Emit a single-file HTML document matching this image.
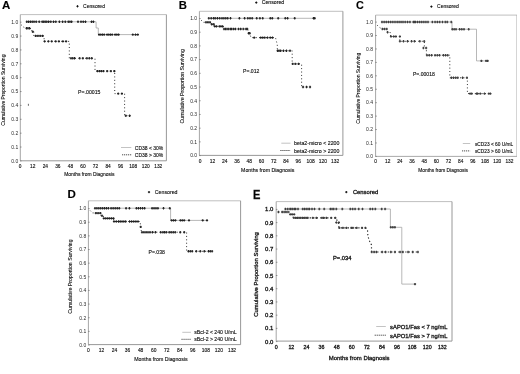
<!DOCTYPE html>
<html><head><meta charset="utf-8"><title>Kaplan-Meier survival curves</title>
<style>
html,body{margin:0;padding:0;background:#fff;width:520px;height:374px;overflow:hidden;}
svg{display:block;}
text{font-family:"Liberation Sans", sans-serif;stroke:#222;stroke-width:0.12px;}
.pE text{stroke-width:0.3px;}
</style></head>
<body>
<svg width="520" height="374" viewBox="0 0 520 374">
<defs><filter id="bl" x="0" y="0" width="1" height="1"><feGaussianBlur stdDeviation="0.35"/></filter></defs>
<rect width="520" height="374" fill="#fff"/>
<g filter="url(#bl)">
<g class="pA">
<path d="M20.3 14.6H166.4" stroke="#b8b8b8" stroke-width="0.9"/>
<path d="M20.3 14.6V160.8" stroke="#a6a6a6" stroke-width="1.0"/>
<path d="M20.3 160.8H166.4V14.6" fill="none" stroke="#8c8c8c" stroke-width="0.9"/>
<text x="1.91" y="8.5" font-size="10.5" textLength="8.3" lengthAdjust="spacingAndGlyphs" font-weight="bold" fill="#000">A</text>
<path d="M76.4 6.3H78.6M77.5 5.2V7.4" stroke="#111" stroke-width="1.0"/>
<text x="83.1" y="8.14" font-size="5.1" textLength="21.9" lengthAdjust="spacingAndGlyphs">Censored</text>
<path d="M20 160.9h1.5M20 147.03h1.5M20 133.16h1.5M20 119.29h1.5M20 105.42h1.5M20 91.55h1.5M20 77.68h1.5M20 63.81h1.5M20 49.94h1.5M20 36.07h1.5M20 22.2h1.5" stroke="#777" stroke-width="0.8"/>
<text x="18.2" y="162.7" font-size="5" text-anchor="end" fill="#2a2a2a" style="stroke:none">0.0</text>
<text x="18.2" y="148.83" font-size="5" text-anchor="end" fill="#2a2a2a" style="stroke:none">0.1</text>
<text x="18.2" y="134.96" font-size="5" text-anchor="end" fill="#2a2a2a" style="stroke:none">0.2</text>
<text x="18.2" y="121.09" font-size="5" text-anchor="end" fill="#2a2a2a" style="stroke:none">0.3</text>
<text x="18.2" y="107.22" font-size="5" text-anchor="end" fill="#2a2a2a" style="stroke:none">0.4</text>
<text x="18.2" y="93.35" font-size="5" text-anchor="end" fill="#2a2a2a" style="stroke:none">0.5</text>
<text x="18.2" y="79.48" font-size="5" text-anchor="end" fill="#2a2a2a" style="stroke:none">0.6</text>
<text x="18.2" y="65.61" font-size="5" text-anchor="end" fill="#2a2a2a" style="stroke:none">0.7</text>
<text x="18.2" y="51.74" font-size="5" text-anchor="end" fill="#2a2a2a" style="stroke:none">0.8</text>
<text x="18.2" y="37.87" font-size="5" text-anchor="end" fill="#2a2a2a" style="stroke:none">0.9</text>
<text x="18.2" y="24" font-size="5" text-anchor="end" fill="#2a2a2a" style="stroke:none">1.0</text>
<text x="20.2" y="167.73" font-size="4.8" text-anchor="middle">0</text>
<text x="32.75" y="167.73" font-size="4.8" text-anchor="middle">12</text>
<text x="45.31" y="167.73" font-size="4.8" text-anchor="middle">24</text>
<text x="57.86" y="167.73" font-size="4.8" text-anchor="middle">36</text>
<text x="70.42" y="167.73" font-size="4.8" text-anchor="middle">48</text>
<text x="82.97" y="167.73" font-size="4.8" text-anchor="middle">60</text>
<text x="95.53" y="167.73" font-size="4.8" text-anchor="middle">72</text>
<text x="108.08" y="167.73" font-size="4.8" text-anchor="middle">84</text>
<text x="120.64" y="167.73" font-size="4.8" text-anchor="middle">96</text>
<text x="133.19" y="167.73" font-size="4.8" text-anchor="middle">108</text>
<text x="145.75" y="167.73" font-size="4.8" text-anchor="middle">120</text>
<text x="158.3" y="167.73" font-size="4.8" text-anchor="middle">132</text>
<text x="64.2" y="176.44" font-size="5.1" textLength="50.4" lengthAdjust="spacingAndGlyphs">Months from Diagnosis</text>
<g transform="translate(4.9 125.7) rotate(-90)"><text x="0" y="0" font-size="5.1" textLength="71.1" lengthAdjust="spacingAndGlyphs">Cumulative Proportion Surviving</text></g>
<text x="78.1" y="93.95" font-size="5.7" textLength="22.3" lengthAdjust="spacingAndGlyphs">P=.00015</text>
<path d="M121 147.5H131.3" stroke="#b4b4b4" stroke-width="0.8"/>
<text x="134.8" y="149.64" font-size="5.1" textLength="28.5" lengthAdjust="spacingAndGlyphs">CD38 &lt; 30%</text>
<path d="M122.1 154.8H131.3" stroke="#3a3a3a" stroke-width="1.0" stroke-dasharray="1.1 0.9"/>
<text x="134.8" y="156.94" font-size="5.1" textLength="28.5" lengthAdjust="spacingAndGlyphs">CD38 &gt; 30%</text>
<path d="M26 21.8 L96.1 21.8 L96.1 28 L98.3 28 L98.3 34.6 L138.9 34.6" fill="none" stroke="#999" stroke-width="0.7"/>
<path d="M21 24.6 L24 27.5 L30 28.6 L31.8 28.6 L31.8 31.7 L33.8 31.7 L33.8 35.9 L44.1 35.9 L44.1 41.4 L69.3 41.4 L69.3 58.3 L95 58.3 L95 71.1 L114.7 71.1 L114.7 93.6 L124.6 93.6 L124.6 115.7 L130.5 115.7" fill="none" stroke="#333" stroke-width="1" stroke-dasharray="1 2.4"/>
<path d="M25.7 21.8H27.9M26.8 20.6V23M27.5 21.8H29.7M28.6 20.6V23M29.3 21.8H31.5M30.4 20.6V23M31.1 21.8H33.3M32.2 20.6V23M32.9 21.8H35.1M34 20.6V23M35.1 21.8H37.3M36.2 20.6V23M38.1 21.8H40.3M39.2 20.6V23M41.1 21.8H43.3M42.2 20.6V23M42.6 21.8H44.8M43.7 20.6V23M44.1 21.8H46.3M45.2 20.6V23M45.7 21.8H47.9M46.8 20.6V23M47.5 21.8H49.7M48.6 20.6V23M49.7 21.8H51.9M50.8 20.6V23M52.4 21.8H54.6M53.5 20.6V23M54.7 21.8H56.9M55.8 20.6V23M58.3 21.8H60.5M59.4 20.6V23M61.5 21.8H63.7M62.6 20.6V23M64.2 21.8H66.4M65.3 20.6V23M67.2 21.8H69.4M68.3 20.6V23M68.85 21.8H71.05M69.95 20.6V23M70.5 21.8H72.7M71.6 20.6V23M76.9 21.8H79.1M78 20.6V23M79.9 21.8H82.1M81 20.6V23M82.15 21.8H84.35M83.25 20.6V23M84.4 21.8H86.6M85.5 20.6V23M90.4 21.8H92.6M91.5 20.6V23M92.3 21.8H94.5M93.4 20.6V23" stroke="#222" stroke-width="1.1"/>
<path d="M98 34.6H100.2M99.1 33.4V35.8M99.7 34.6H101.9M100.8 33.4V35.8M101.4 34.6H103.6M102.5 33.4V35.8M103.1 34.6H105.3M104.2 33.4V35.8M106 34.6H108.2M107.1 33.4V35.8M107.7 34.6H109.9M108.8 33.4V35.8M109.4 34.6H111.6M110.5 33.4V35.8M111.1 34.6H113.3M112.2 33.4V35.8M114 34.6H116.2M115.1 33.4V35.8M115.75 34.6H117.95M116.85 33.4V35.8M117.5 34.6H119.7M118.6 33.4V35.8M131.7 34.6H133.9M132.8 33.4V35.8M134.4 34.6H136.6M135.5 33.4V35.8M136.7 34.6H138.9M137.8 33.4V35.8" stroke="#222" stroke-width="1.1"/>
<path d="M25.4 28.3H27.6M26.5 27.1V29.5M26.9 28.3H29.1M28 27.1V29.5M28.4 28.3H30.6M29.5 27.1V29.5" stroke="#222" stroke-width="1.1"/>
<path d="M31.7 31.8H33.9M32.8 30.6V33" stroke="#222" stroke-width="1.1"/>
<path d="M34.5 35.9H36.7M35.6 34.7V37.1M36.8 35.9H39M37.9 34.7V37.1M39.1 35.9H41.3M40.2 34.7V37.1M41.4 35.9H43.6M42.5 34.7V37.1" stroke="#222" stroke-width="1.1"/>
<path d="M43.5 41.4H45.7M44.6 40.2V42.6M47.3 41.4H49.5M48.4 40.2V42.6M50.6 41.4H52.8M51.7 40.2V42.6M54.6 41.4H56.8M55.7 40.2V42.6M57.8 41.4H60M58.9 40.2V42.6M61.8 41.4H64M62.9 40.2V42.6M65 41.4H67.2M66.1 40.2V42.6" stroke="#222" stroke-width="1.1"/>
<path d="M69.9 58.3H72.1M71 57.1V59.5M71.65 58.3H73.85M72.75 57.1V59.5M73.4 58.3H75.6M74.5 57.1V59.5M78.6 58.3H80.8M79.7 57.1V59.5M81.8 58.3H84M82.9 57.1V59.5M85.8 58.3H88M86.9 57.1V59.5M88.2 58.3H90.4M89.3 57.1V59.5M90.6 58.3H92.8M91.7 57.1V59.5" stroke="#222" stroke-width="1.1"/>
<path d="M96.4 71.1H98.6M97.5 69.9V72.3M98.4 71.1H100.6M99.5 69.9V72.3M100.4 71.1H102.6M101.5 69.9V72.3M102.4 71.1H104.6M103.5 69.9V72.3M106.1 71.1H108.3M107.2 69.9V72.3M109.8 71.1H112M110.9 69.9V72.3M113.3 71.1H115.5M114.4 69.9V72.3" stroke="#222" stroke-width="1.1"/>
<path d="M117.1 93.6H119.3M118.2 92.4V94.8M120.8 93.6H123M121.9 92.4V94.8" stroke="#222" stroke-width="1.1"/>
<path d="M124.7 115.7H126.9M125.8 114.5V116.9M128.5 115.7H130.7M129.6 114.5V116.9" stroke="#222" stroke-width="1.1"/>
<path d="M28.4 103.8V105.8" stroke="#444" stroke-width="0.8"/>
</g>
<g class="pB">
<path d="M199.4 11.3H342.9" stroke="#b8b8b8" stroke-width="0.9"/>
<path d="M199.4 11.3V155.4" stroke="#a6a6a6" stroke-width="1.0"/>
<path d="M199.4 155.4H342.9V11.3" fill="none" stroke="#8c8c8c" stroke-width="0.9"/>
<text x="178.76" y="9.1" font-size="10.6" textLength="8.17" lengthAdjust="spacingAndGlyphs" font-weight="bold" fill="#000">B</text>
<path d="M255.2 2.6H257.4M256.3 1.5V3.7" stroke="#111" stroke-width="1.0"/>
<text x="261.7" y="4.47" font-size="5.2" textLength="22.5" lengthAdjust="spacingAndGlyphs">Censored</text>
<path d="M199.1 155.6h1.5M199.1 141.89h1.5M199.1 128.18h1.5M199.1 114.47h1.5M199.1 100.76h1.5M199.1 87.05h1.5M199.1 73.34h1.5M199.1 59.63h1.5M199.1 45.92h1.5M199.1 32.21h1.5M199.1 18.5h1.5" stroke="#777" stroke-width="0.8"/>
<text x="197.1" y="157.4" font-size="5" text-anchor="end" fill="#2a2a2a" style="stroke:none">0.0</text>
<text x="197.1" y="143.69" font-size="5" text-anchor="end" fill="#2a2a2a" style="stroke:none">0.1</text>
<text x="197.1" y="129.98" font-size="5" text-anchor="end" fill="#2a2a2a" style="stroke:none">0.2</text>
<text x="197.1" y="116.27" font-size="5" text-anchor="end" fill="#2a2a2a" style="stroke:none">0.3</text>
<text x="197.1" y="102.56" font-size="5" text-anchor="end" fill="#2a2a2a" style="stroke:none">0.4</text>
<text x="197.1" y="88.85" font-size="5" text-anchor="end" fill="#2a2a2a" style="stroke:none">0.5</text>
<text x="197.1" y="75.14" font-size="5" text-anchor="end" fill="#2a2a2a" style="stroke:none">0.6</text>
<text x="197.1" y="61.43" font-size="5" text-anchor="end" fill="#2a2a2a" style="stroke:none">0.7</text>
<text x="197.1" y="47.72" font-size="5" text-anchor="end" fill="#2a2a2a" style="stroke:none">0.8</text>
<text x="197.1" y="34.01" font-size="5" text-anchor="end" fill="#2a2a2a" style="stroke:none">0.9</text>
<text x="197.1" y="20.3" font-size="5" text-anchor="end" fill="#2a2a2a" style="stroke:none">1.0</text>
<text x="200.2" y="162.86" font-size="4.9" text-anchor="middle">0</text>
<text x="212.46" y="162.86" font-size="4.9" text-anchor="middle">12</text>
<text x="224.73" y="162.86" font-size="4.9" text-anchor="middle">24</text>
<text x="236.99" y="162.86" font-size="4.9" text-anchor="middle">36</text>
<text x="249.25" y="162.86" font-size="4.9" text-anchor="middle">48</text>
<text x="261.52" y="162.86" font-size="4.9" text-anchor="middle">60</text>
<text x="273.78" y="162.86" font-size="4.9" text-anchor="middle">72</text>
<text x="286.05" y="162.86" font-size="4.9" text-anchor="middle">84</text>
<text x="298.31" y="162.86" font-size="4.9" text-anchor="middle">96</text>
<text x="310.57" y="162.86" font-size="4.9" text-anchor="middle">108</text>
<text x="322.84" y="162.86" font-size="4.9" text-anchor="middle">120</text>
<text x="335.1" y="162.86" font-size="4.9" text-anchor="middle">132</text>
<text x="241.1" y="171.97" font-size="5.2" textLength="53.2" lengthAdjust="spacingAndGlyphs">Months from Diagnosis</text>
<g transform="translate(183.6 123.4) rotate(-90)"><text x="0" y="0" font-size="5.2" textLength="74.3" lengthAdjust="spacingAndGlyphs">Cumulative Proportion Surviving</text></g>
<text x="243" y="73.25" font-size="5.7" textLength="16.3" lengthAdjust="spacingAndGlyphs">P=.012</text>
<path d="M281.3 143.2H290.5" stroke="#b4b4b4" stroke-width="0.8"/>
<text x="294.1" y="145.37" font-size="5.2" textLength="45.3" lengthAdjust="spacingAndGlyphs">beta2-micro &lt; 2200</text>
<path d="M280.4 150.5H290.5" stroke="#3a3a3a" stroke-width="1.0" stroke-dasharray="1.1 0.9"/>
<text x="294.1" y="152.67" font-size="5.2" textLength="45.3" lengthAdjust="spacingAndGlyphs">beta2-micro &gt; 2200</text>
<path d="M208.2 18.3 L315.9 18.3" fill="none" stroke="#999" stroke-width="0.7"/>
<path d="M201 20.1 L203.6 22.3 L210.5 22.3 L210.5 24.2 L214.2 24.2 L214.2 26.4 L223.5 26.4 L223.5 29 L247.4 29 L249.5 33 L251 37.6 L275.5 37.6 L277.3 44.8 L277.3 50.8 L292.2 50.8 L292.2 63.9 L301.6 63.9 L301.6 87 L311.8 87" fill="none" stroke="#333" stroke-width="1" stroke-dasharray="1 2.4"/>
<path d="M207.7 18.3H209.9M208.8 17.1V19.5M210.1 18.3H212.3M211.2 17.1V19.5M212.5 18.3H214.7M213.6 17.1V19.5M214.1 18.3H216.3M215.2 17.1V19.5M216.35 18.3H218.55M217.45 17.1V19.5M218.6 18.3H220.8M219.7 17.1V19.5M220.9 18.3H223.1M222 17.1V19.5M222.8 18.3H225M223.9 17.1V19.5M224.7 18.3H226.9M225.8 17.1V19.5M226.6 18.3H228.8M227.7 17.1V19.5M229.4 18.3H231.6M230.5 17.1V19.5M238.3 18.3H240.5M239.4 17.1V19.5M243.5 18.3H245.7M244.6 17.1V19.5M246.7 18.3H248.9M247.8 17.1V19.5M248.9 18.3H251.1M250 17.1V19.5M251.1 18.3H253.3M252.2 17.1V19.5M255.6 18.3H257.8M256.7 17.1V19.5M258.8 18.3H261M259.9 17.1V19.5M261.6 18.3H263.8M262.7 17.1V19.5M269.2 18.3H271.4M270.3 17.1V19.5M271.2 18.3H273.4M272.3 17.1V19.5M277.1 18.3H279.3M278.2 17.1V19.5M284.2 18.3H286.4M285.3 17.1V19.5M286.5 18.3H288.7M287.6 17.1V19.5M293.6 18.3H295.8M294.7 17.1V19.5M312.4 18.3H314.6M313.5 17.1V19.5M313.6 18.3H315.8M314.7 17.1V19.5" stroke="#222" stroke-width="1.1"/>
<path d="M204.9 22.3H207.1M206 21.1V23.5M206.9 22.3H209.1M208 21.1V23.5M208.9 22.3H211.1M210 21.1V23.5" stroke="#222" stroke-width="1.1"/>
<path d="M210.6 24.2H212.8M211.7 23V25.4M212.7 24.2H214.9M213.8 23V25.4" stroke="#222" stroke-width="1.1"/>
<path d="M213.7 26.4H215.9M214.8 25.2V27.6M215.4 26.4H217.6M216.5 25.2V27.6M218.3 26.4H220.5M219.4 25.2V27.6M219.85 26.4H222.05M220.95 25.2V27.6M221.4 26.4H223.6M222.5 25.2V27.6" stroke="#222" stroke-width="1.1"/>
<path d="M222.9 29H225.1M224 27.8V30.2M224.45 29H226.65M225.55 27.8V30.2M226 29H228.2M227.1 27.8V30.2M227.6 29H229.8M228.7 27.8V30.2M229.5 29H231.7M230.6 27.8V30.2M230.6 29H232.8M231.7 27.8V30.2M232.5 29H234.7M233.6 27.8V30.2M234.4 29H236.6M235.5 27.8V30.2M237.4 29H239.6M238.5 27.8V30.2M239.5 29H241.7M240.6 27.8V30.2M242.2 29H244.4M243.3 27.8V30.2M245 29H247.2M246.1 27.8V30.2M246.2 29H248.4M247.3 27.8V30.2" stroke="#222" stroke-width="1.1"/>
<path d="M247.5 33.2H249.7M248.6 32V34.4M248.7 33.2H250.9M249.8 32V34.4" stroke="#222" stroke-width="1.1"/>
<path d="M253.1 37.6H255.3M254.2 36.4V38.8M259.6 37.6H261.8M260.7 36.4V38.8M261.6 37.6H263.8M262.7 36.4V38.8M263.6 37.6H265.8M264.7 36.4V38.8M266.4 37.6H268.6M267.5 36.4V38.8M269.2 37.6H271.4M270.3 36.4V38.8M271.4 37.6H273.6M272.5 36.4V38.8" stroke="#222" stroke-width="1.1"/>
<path d="M276.5 50.8H278.7M277.6 49.6V52M278 50.8H280.2M279.1 49.6V52M279.5 50.8H281.7M280.6 49.6V52M282.4 50.8H284.6M283.5 49.6V52M285.4 50.8H287.6M286.5 49.6V52M288.9 50.8H291.1M290 49.6V52" stroke="#222" stroke-width="1.1"/>
<path d="M291.6 63.9H293.8M292.7 62.7V65.1M294.2 63.9H296.4M295.3 62.7V65.1M297.4 63.9H299.6M298.5 62.7V65.1" stroke="#222" stroke-width="1.1"/>
<path d="M301.9 87H304.1M303 85.8V88.2M305.4 87H307.6M306.5 85.8V88.2M308.9 87H311.1M310 85.8V88.2" stroke="#222" stroke-width="1.1"/>
</g>
<g class="pC">
<path d="M375.6 15.1H517" stroke="#b8b8b8" stroke-width="0.9"/>
<path d="M375.6 15.1V156.4" stroke="#a6a6a6" stroke-width="1.0"/>
<path d="M375.6 156.4H517V15.1" fill="none" stroke="#a0a0a0" stroke-width="0.9"/>
<text x="356.07" y="8.6" font-size="10.8" textLength="7.83" lengthAdjust="spacingAndGlyphs" font-weight="bold" fill="#000">C</text>
<path d="M430.3 6.6H432.5M431.4 5.5V7.7" stroke="#111" stroke-width="1.0"/>
<text x="437.1" y="8.4" font-size="5" textLength="21.7" lengthAdjust="spacingAndGlyphs">Censored</text>
<path d="M375.3 156.4h1.5M375.3 142.97h1.5M375.3 129.54h1.5M375.3 116.11h1.5M375.3 102.68h1.5M375.3 89.25h1.5M375.3 75.82h1.5M375.3 62.39h1.5M375.3 48.96h1.5M375.3 35.53h1.5M375.3 22.1h1.5" stroke="#777" stroke-width="0.8"/>
<text x="373" y="158.2" font-size="5" text-anchor="end" fill="#2a2a2a" style="stroke:none">0.0</text>
<text x="373" y="144.77" font-size="5" text-anchor="end" fill="#2a2a2a" style="stroke:none">0.1</text>
<text x="373" y="131.34" font-size="5" text-anchor="end" fill="#2a2a2a" style="stroke:none">0.2</text>
<text x="373" y="117.91" font-size="5" text-anchor="end" fill="#2a2a2a" style="stroke:none">0.3</text>
<text x="373" y="104.48" font-size="5" text-anchor="end" fill="#2a2a2a" style="stroke:none">0.4</text>
<text x="373" y="91.05" font-size="5" text-anchor="end" fill="#2a2a2a" style="stroke:none">0.5</text>
<text x="373" y="77.62" font-size="5" text-anchor="end" fill="#2a2a2a" style="stroke:none">0.6</text>
<text x="373" y="64.19" font-size="5" text-anchor="end" fill="#2a2a2a" style="stroke:none">0.7</text>
<text x="373" y="50.76" font-size="5" text-anchor="end" fill="#2a2a2a" style="stroke:none">0.8</text>
<text x="373" y="37.33" font-size="5" text-anchor="end" fill="#2a2a2a" style="stroke:none">0.9</text>
<text x="373" y="23.9" font-size="5" text-anchor="end" fill="#2a2a2a" style="stroke:none">1.0</text>
<text x="375.5" y="163.03" font-size="4.8" text-anchor="middle">0</text>
<text x="387.67" y="163.03" font-size="4.8" text-anchor="middle">12</text>
<text x="399.85" y="163.03" font-size="4.8" text-anchor="middle">24</text>
<text x="412.02" y="163.03" font-size="4.8" text-anchor="middle">36</text>
<text x="424.19" y="163.03" font-size="4.8" text-anchor="middle">48</text>
<text x="436.36" y="163.03" font-size="4.8" text-anchor="middle">60</text>
<text x="448.54" y="163.03" font-size="4.8" text-anchor="middle">72</text>
<text x="460.71" y="163.03" font-size="4.8" text-anchor="middle">84</text>
<text x="472.88" y="163.03" font-size="4.8" text-anchor="middle">96</text>
<text x="485.05" y="163.03" font-size="4.8" text-anchor="middle">108</text>
<text x="497.23" y="163.03" font-size="4.8" text-anchor="middle">120</text>
<text x="509.4" y="163.03" font-size="4.8" text-anchor="middle">132</text>
<text x="418.2" y="172.3" font-size="5" textLength="49.8" lengthAdjust="spacingAndGlyphs">Months from Diagnosis</text>
<g transform="translate(360.4 123.7) rotate(-90)"><text x="0" y="0" font-size="5" textLength="71" lengthAdjust="spacingAndGlyphs">Cumulative Proportion Surviving</text></g>
<text x="413" y="76.25" font-size="5.7" textLength="21.8" lengthAdjust="spacingAndGlyphs">P=.00018</text>
<path d="M462.8 143.5H470.2" stroke="#b4b4b4" stroke-width="0.8"/>
<text x="474.9" y="145.6" font-size="5" textLength="38.4" lengthAdjust="spacingAndGlyphs">sCD23 &lt; 60 U/mL</text>
<path d="M462.1 150.9H470.2" stroke="#3a3a3a" stroke-width="1.0" stroke-dasharray="1.1 0.9"/>
<text x="474.9" y="153" font-size="5" textLength="38.4" lengthAdjust="spacingAndGlyphs">sCD23 &gt; 60 U/mL</text>
<path d="M381.2 22 L452 22 L452 29.2 L476.5 29.2 L476.5 60.9 L489 60.9" fill="none" stroke="#999" stroke-width="0.7"/>
<path d="M377.2 25.2 L379.5 27.4 L382 29 L387.2 29 L387.4 32.4 L390.6 32.6 L390.6 36.5 L399.8 36.5 L399.8 41.3 L424.4 41.3 L424.4 48 L426.4 48 L426.4 55.2 L449.8 55.2 L449.8 77.8 L467.4 77.8 L467.4 93.6 L491 93.6" fill="none" stroke="#333" stroke-width="1" stroke-dasharray="1 2.4"/>
<path d="M380.9 22H383.1M382 20.8V23.2M383.07 22H385.27M384.17 20.8V23.2M385.23 22H387.43M386.33 20.8V23.2M387.4 22H389.6M388.5 20.8V23.2M389.57 22H391.77M390.67 20.8V23.2M391.73 22H393.93M392.83 20.8V23.2M393.9 22H396.1M395 20.8V23.2M396.1 22H398.3M397.2 20.8V23.2M398.03 22H400.23M399.13 20.8V23.2M399.97 22H402.17M401.07 20.8V23.2M401.9 22H404.1M403 20.8V23.2M404.1 22H406.3M405.2 20.8V23.2M406.45 22H408.65M407.55 20.8V23.2M408.8 22H411M409.9 20.8V23.2M412.3 22H414.5M413.4 20.8V23.2M414.39 22H416.59M415.49 20.8V23.2M416.47 22H418.67M417.57 20.8V23.2M418.56 22H420.76M419.66 20.8V23.2M420.64 22H422.84M421.74 20.8V23.2M422.73 22H424.93M423.83 20.8V23.2M424.81 22H427.01M425.91 20.8V23.2M426.9 22H429.1M428 20.8V23.2M413.2 22H415.4M414.3 20.8V23.2M431.3 22H433.5M432.4 20.8V23.2M434 22H436.2M435.1 20.8V23.2M436.3 22H438.5M437.4 20.8V23.2M438.6 22H440.8M439.7 20.8V23.2M441.4 22H443.6M442.5 20.8V23.2M444.2 22H446.4M445.3 20.8V23.2M446.2 22H448.4M447.3 20.8V23.2M450.2 22H452.4M451.3 20.8V23.2" stroke="#3c3c3c" stroke-width="1.1"/>
<path d="M451.2 29.2H453.4M452.3 28V30.4M453.05 29.2H455.25M454.15 28V30.4M454.9 29.2H457.1M456 28V30.4M458.5 29.2H460.7M459.6 28V30.4M460.7 29.2H462.9M461.8 28V30.4M462.9 29.2H465.1M464 28V30.4M467.6 29.2H469.8M468.7 28V30.4" stroke="#3c3c3c" stroke-width="1.1"/>
<path d="M480.3 60.9H482.5M481.4 59.7V62.1M485 60.9H487.2M486.1 59.7V62.1M486.5 60.9H488.7M487.6 59.7V62.1" stroke="#3c3c3c" stroke-width="1.1"/>
<path d="M381.3 29H383.5M382.4 27.8V30.2M383.5 29H385.7M384.6 27.8V30.2M385.7 29H387.9M386.8 27.8V30.2" stroke="#3c3c3c" stroke-width="1.1"/>
<path d="M386.5 32.3H388.7M387.6 31.1V33.5" stroke="#3c3c3c" stroke-width="1.1"/>
<path d="M389.9 36.5H392.1M391 35.3V37.7M392.7 36.5H394.9M393.8 35.3V37.7M394.8 36.5H397M395.9 35.3V37.7M398.8 36.5H401M399.9 35.3V37.7" stroke="#3c3c3c" stroke-width="1.1"/>
<path d="M398.8 41.3H401M399.9 40.1V42.5M402.4 41.3H404.6M403.5 40.1V42.5M406.4 41.3H408.6M407.5 40.1V42.5M410.4 41.3H412.6M411.5 40.1V42.5M413.3 41.3H415.5M414.4 40.1V42.5M418.7 41.3H420.9M419.8 40.1V42.5M423.1 41.3H425.3M424.2 40.1V42.5" stroke="#3c3c3c" stroke-width="1.1"/>
<path d="M422.3 48H424.5M423.4 46.8V49.2M425.1 48H427.3M426.2 46.8V49.2" stroke="#3c3c3c" stroke-width="1.1"/>
<path d="M425.9 55.2H428.1M427 54V56.4M428.2 55.2H430.4M429.3 54V56.4M430.5 55.2H432.7M431.6 54V56.4M433.9 55.2H436.1M435 54V56.4M436.2 55.2H438.4M437.3 54V56.4M438.5 55.2H440.7M439.6 54V56.4M442.4 55.2H444.6M443.5 54V56.4M444.5 55.2H446.7M445.6 54V56.4M446.6 55.2H448.8M447.7 54V56.4" stroke="#3c3c3c" stroke-width="1.1"/>
<path d="M450.3 77.8H452.5M451.4 76.6V79M452.4 77.8H454.6M453.5 76.6V79M454.6 77.8H456.8M455.7 76.6V79M456.7 77.8H458.9M457.8 76.6V79M461.5 77.8H463.7M462.6 76.6V79M465.8 77.8H468M466.9 76.6V79" stroke="#3c3c3c" stroke-width="1.1"/>
<path d="M469 93.6H471.2M470.1 92.4V94.8M470.6 93.6H472.8M471.7 92.4V94.8M475.4 93.6H477.6M476.5 92.4V94.8M476.5 93.6H478.7M477.6 92.4V94.8M479.2 93.6H481.4M480.3 92.4V94.8M483.4 93.6H485.6M484.5 92.4V94.8M487.7 93.6H489.9M488.8 92.4V94.8M489.3 93.6H491.5M490.4 92.4V94.8" stroke="#3c3c3c" stroke-width="1.1"/>
</g>
<g class="pD">
<path d="M88.4 200.8H240.6" stroke="#b8b8b8" stroke-width="0.9"/>
<path d="M88.4 200.8V344.6" stroke="#a6a6a6" stroke-width="1.0"/>
<path d="M88.4 344.6H240.6V200.8" fill="none" stroke="#8c8c8c" stroke-width="0.9"/>
<text x="67.55" y="198.2" font-size="11.3" textLength="8.34" lengthAdjust="spacingAndGlyphs" font-weight="bold" fill="#000">D</text>
<path d="M147.9 192.1H150.1M149 191V193.2" stroke="#111" stroke-width="1.0"/>
<text x="154.8" y="193.97" font-size="5.2" textLength="22.7" lengthAdjust="spacingAndGlyphs">Censored</text>
<path d="M88.1 345h1.5M88.1 331.36h1.5M88.1 317.72h1.5M88.1 304.08h1.5M88.1 290.44h1.5M88.1 276.8h1.5M88.1 263.16h1.5M88.1 249.52h1.5M88.1 235.88h1.5M88.1 222.24h1.5M88.1 208.6h1.5" stroke="#777" stroke-width="0.8"/>
<text x="86.2" y="346.8" font-size="5" text-anchor="end" fill="#2a2a2a" style="stroke:none">0.0</text>
<text x="86.2" y="333.16" font-size="5" text-anchor="end" fill="#2a2a2a" style="stroke:none">0.1</text>
<text x="86.2" y="319.52" font-size="5" text-anchor="end" fill="#2a2a2a" style="stroke:none">0.2</text>
<text x="86.2" y="305.88" font-size="5" text-anchor="end" fill="#2a2a2a" style="stroke:none">0.3</text>
<text x="86.2" y="292.24" font-size="5" text-anchor="end" fill="#2a2a2a" style="stroke:none">0.4</text>
<text x="86.2" y="278.6" font-size="5" text-anchor="end" fill="#2a2a2a" style="stroke:none">0.5</text>
<text x="86.2" y="264.96" font-size="5" text-anchor="end" fill="#2a2a2a" style="stroke:none">0.6</text>
<text x="86.2" y="251.32" font-size="5" text-anchor="end" fill="#2a2a2a" style="stroke:none">0.7</text>
<text x="86.2" y="237.68" font-size="5" text-anchor="end" fill="#2a2a2a" style="stroke:none">0.8</text>
<text x="86.2" y="224.04" font-size="5" text-anchor="end" fill="#2a2a2a" style="stroke:none">0.9</text>
<text x="86.2" y="210.4" font-size="5" text-anchor="end" fill="#2a2a2a" style="stroke:none">1.0</text>
<text x="88.4" y="352.16" font-size="4.9" text-anchor="middle">0</text>
<text x="101.45" y="352.16" font-size="4.9" text-anchor="middle">12</text>
<text x="114.51" y="352.16" font-size="4.9" text-anchor="middle">24</text>
<text x="127.56" y="352.16" font-size="4.9" text-anchor="middle">36</text>
<text x="140.62" y="352.16" font-size="4.9" text-anchor="middle">48</text>
<text x="153.67" y="352.16" font-size="4.9" text-anchor="middle">60</text>
<text x="166.73" y="352.16" font-size="4.9" text-anchor="middle">72</text>
<text x="179.78" y="352.16" font-size="4.9" text-anchor="middle">84</text>
<text x="192.84" y="352.16" font-size="4.9" text-anchor="middle">96</text>
<text x="205.89" y="352.16" font-size="4.9" text-anchor="middle">108</text>
<text x="218.95" y="352.16" font-size="4.9" text-anchor="middle">120</text>
<text x="232" y="352.16" font-size="4.9" text-anchor="middle">132</text>
<text x="134.2" y="361.47" font-size="5.2" textLength="53.5" lengthAdjust="spacingAndGlyphs">Months from Diagnosis</text>
<g transform="translate(72.2 313.7) rotate(-90)"><text x="0" y="0" font-size="5.2" textLength="74.3" lengthAdjust="spacingAndGlyphs">Cumulative Proportion Surviving</text></g>
<text x="148.5" y="253.85" font-size="5.7" textLength="16.4" lengthAdjust="spacingAndGlyphs">P=.038</text>
<path d="M182.3 332.3H190.9" stroke="#b4b4b4" stroke-width="0.8"/>
<text x="194.2" y="334.47" font-size="5.2" textLength="42.5" lengthAdjust="spacingAndGlyphs">sBcl-2 &lt; 240 U/mL</text>
<path d="M181.5 339.3H190.9" stroke="#3a3a3a" stroke-width="1.0" stroke-dasharray="1.1 0.9"/>
<text x="194.2" y="341.47" font-size="5.2" textLength="42.5" lengthAdjust="spacingAndGlyphs">sBcl-2 &gt; 240 U/mL</text>
<path d="M94.2 208.2 L170.6 208.2 L170.6 220.4 L208 220.4" fill="none" stroke="#999" stroke-width="0.7"/>
<path d="M90.2 210.6 L92.4 212.9 L101 213.1 L101 215.8 L103.4 215.8 L103.4 218.4 L113.7 218.4 L113.7 221.5 L140.2 221.5 L140.6 226.9 L141.5 232.2 L186.6 232.2 L186.6 251.3 L212.3 251.3" fill="none" stroke="#333" stroke-width="1" stroke-dasharray="1 2.4"/>
<path d="M93.9 208.2H96.1M95 207V209.4M95.81 208.2H98.01M96.91 207V209.4M97.73 208.2H99.93M98.83 207V209.4M99.64 208.2H101.84M100.74 207V209.4M101.56 208.2H103.76M102.66 207V209.4M103.47 208.2H105.67M104.57 207V209.4M105.39 208.2H107.59M106.49 207V209.4M107.3 208.2H109.5M108.4 207V209.4M110 208.2H112.2M111.1 207V209.4M112.05 208.2H114.25M113.15 207V209.4M114.1 208.2H116.3M115.2 207V209.4M116.15 208.2H118.35M117.25 207V209.4M118.2 208.2H120.4M119.3 207V209.4M125 208.2H127.2M126.1 207V209.4M128.3 208.2H130.5M129.4 207V209.4M135.3 208.2H137.5M136.4 207V209.4M137.35 208.2H139.55M138.45 207V209.4M139.4 208.2H141.6M140.5 207V209.4M141.45 208.2H143.65M142.55 207V209.4M143.5 208.2H145.7M144.6 207V209.4M151 208.2H153.2M152.1 207V209.4M152.93 208.2H155.13M154.03 207V209.4M154.87 208.2H157.07M155.97 207V209.4M156.8 208.2H159M157.9 207V209.4M162.4 208.2H164.6M163.5 207V209.4M168.7 208.2H170.9M169.8 207V209.4" stroke="#222" stroke-width="1.1"/>
<path d="M170.5 220.4H172.7M171.6 219.2V221.6M172.4 220.4H174.6M173.5 219.2V221.6M174.3 220.4H176.5M175.4 219.2V221.6M179.3 220.4H181.5M180.4 219.2V221.6M181.2 220.4H183.4M182.3 219.2V221.6M183.1 220.4H185.3M184.2 219.2V221.6M187.9 220.4H190.1M189 219.2V221.6M201.6 220.4H203.8M202.7 219.2V221.6M205.9 220.4H208.1M207 219.2V221.6" stroke="#222" stroke-width="1.1"/>
<path d="M94.7 213.1H96.9M95.8 211.9V214.3M97 213.1H99.2M98.1 211.9V214.3M99.3 213.1H101.5M100.4 211.9V214.3" stroke="#222" stroke-width="1.1"/>
<path d="M100.9 215.8H103.1M102 214.6V217" stroke="#222" stroke-width="1.1"/>
<path d="M102.7 218.4H104.9M103.8 217.2V219.6M104.64 218.4H106.84M105.74 217.2V219.6M106.58 218.4H108.78M107.68 217.2V219.6M108.52 218.4H110.72M109.62 217.2V219.6M110.46 218.4H112.66M111.56 217.2V219.6M112.4 218.4H114.6M113.5 217.2V219.6" stroke="#222" stroke-width="1.1"/>
<path d="M112.9 221.5H115.1M114 220.3V222.7M115.15 221.5H117.35M116.25 220.3V222.7M117.4 221.5H119.6M118.5 220.3V222.7M119.1 221.5H121.3M120.2 220.3V222.7M120.93 221.5H123.13M122.03 220.3V222.7M122.77 221.5H124.97M123.87 220.3V222.7M124.6 221.5H126.8M125.7 220.3V222.7M128.5 221.5H130.7M129.6 220.3V222.7M130.6 221.5H132.8M131.7 220.3V222.7M132.7 221.5H134.9M133.8 220.3V222.7M134.8 221.5H137M135.9 220.3V222.7M136.9 221.5H139.1M138 220.3V222.7" stroke="#222" stroke-width="1.1"/>
<path d="M139.6 226.9H141.8M140.7 225.7V228.1" stroke="#222" stroke-width="1.1"/>
<path d="M140.9 232.2H143.1M142 231V233.4M142.9 232.2H145.1M144 231V233.4M144.9 232.2H147.1M146 231V233.4M146.9 232.2H149.1M148 231V233.4M148.9 232.2H151.1M150 231V233.4M151.3 232.2H153.5M152.4 231V233.4M154.3 232.2H156.5M155.4 231V233.4M159.6 232.2H161.8M160.7 231V233.4M161.8 232.2H164M162.9 231V233.4M163.5 232.2H165.7M164.6 231V233.4M165.2 232.2H167.4M166.3 231V233.4M168.1 232.2H170.3M169.2 231V233.4M170.1 232.2H172.3M171.2 231V233.4M172.1 232.2H174.3M173.2 231V233.4M174.1 232.2H176.3M175.2 231V233.4M179.1 232.2H181.3M180.2 231V233.4M183.1 232.2H185.3M184.2 231V233.4" stroke="#222" stroke-width="1.1"/>
<path d="M187.3 251.3H189.5M188.4 250.1V252.5M189.2 251.3H191.4M190.3 250.1V252.5M191.1 251.3H193.3M192.2 250.1V252.5M195.2 251.3H197.4M196.3 250.1V252.5M199.2 251.3H201.4M200.3 250.1V252.5M203.2 251.3H205.4M204.3 250.1V252.5M207.4 251.3H209.6M208.5 250.1V252.5M209.2 251.3H211.4M210.3 250.1V252.5M211 251.3H213.2M212.1 250.1V252.5" stroke="#222" stroke-width="1.1"/>
</g>
<g class="pE">
<path d="M276.2 201.6H452" stroke="#b8b8b8" stroke-width="0.9"/>
<path d="M276.2 201.6V341.1" stroke="#a6a6a6" stroke-width="1.0"/>
<path d="M276.2 341.1H452V201.6" fill="none" stroke="#8c8c8c" stroke-width="0.9"/>
<text x="252.95" y="198.8" font-size="12.2" textLength="7.4" lengthAdjust="spacingAndGlyphs" font-weight="bold" fill="#000">E</text>
<path d="M345.2 192.1H347.4M346.3 191V193.2" stroke="#111" stroke-width="1.0"/>
<text x="352.9" y="194.22" font-size="5.9" textLength="25.3" lengthAdjust="spacingAndGlyphs" fill="#000">Censored</text>
<path d="M275.9 341.6h1.5M275.9 328.38h1.5M275.9 315.16h1.5M275.9 301.94h1.5M275.9 288.72h1.5M275.9 275.5h1.5M275.9 262.28h1.5M275.9 249.06h1.5M275.9 235.84h1.5M275.9 222.62h1.5M275.9 209.4h1.5" stroke="#777" stroke-width="0.8"/>
<text x="265.1" y="343.62" font-size="5.6" textLength="8.3" lengthAdjust="spacingAndGlyphs">0.0</text>
<text x="265.1" y="330.4" font-size="5.6" textLength="8.3" lengthAdjust="spacingAndGlyphs">0.1</text>
<text x="265.1" y="317.18" font-size="5.6" textLength="8.3" lengthAdjust="spacingAndGlyphs">0.2</text>
<text x="265.1" y="303.96" font-size="5.6" textLength="8.3" lengthAdjust="spacingAndGlyphs">0.3</text>
<text x="265.1" y="290.74" font-size="5.6" textLength="8.3" lengthAdjust="spacingAndGlyphs">0.4</text>
<text x="265.1" y="277.52" font-size="5.6" textLength="8.3" lengthAdjust="spacingAndGlyphs">0.5</text>
<text x="265.1" y="264.3" font-size="5.6" textLength="8.3" lengthAdjust="spacingAndGlyphs">0.6</text>
<text x="265.1" y="251.08" font-size="5.6" textLength="8.3" lengthAdjust="spacingAndGlyphs">0.7</text>
<text x="265.1" y="237.86" font-size="5.6" textLength="8.3" lengthAdjust="spacingAndGlyphs">0.8</text>
<text x="265.1" y="224.64" font-size="5.6" textLength="8.3" lengthAdjust="spacingAndGlyphs">0.9</text>
<text x="265.1" y="211.42" font-size="5.6" textLength="8.3" lengthAdjust="spacingAndGlyphs">1.0</text>
<text x="276.3" y="349.41" font-size="5.3" text-anchor="middle">0</text>
<text x="291.39" y="349.41" font-size="5.3" text-anchor="middle">12</text>
<text x="306.48" y="349.41" font-size="5.3" text-anchor="middle">24</text>
<text x="321.57" y="349.41" font-size="5.3" text-anchor="middle">36</text>
<text x="336.66" y="349.41" font-size="5.3" text-anchor="middle">48</text>
<text x="351.75" y="349.41" font-size="5.3" text-anchor="middle">60</text>
<text x="366.85" y="349.41" font-size="5.3" text-anchor="middle">72</text>
<text x="381.94" y="349.41" font-size="5.3" text-anchor="middle">84</text>
<text x="397.03" y="349.41" font-size="5.3" text-anchor="middle">96</text>
<text x="412.12" y="349.41" font-size="5.3" text-anchor="middle">108</text>
<text x="427.21" y="349.41" font-size="5.3" text-anchor="middle">120</text>
<text x="442.3" y="349.41" font-size="5.3" text-anchor="middle">132</text>
<text x="328.7" y="359.82" font-size="5.9" textLength="60.9" lengthAdjust="spacingAndGlyphs">Months from Diagnosis</text>
<g transform="translate(257.9 316.7) rotate(-90)"><text x="0" y="0" font-size="5.9" textLength="84.5" lengthAdjust="spacingAndGlyphs">Cumulative Proportion Surviving</text></g>
<text x="332.9" y="259.85" font-size="5.7" textLength="18.5" lengthAdjust="spacingAndGlyphs">P=.034</text>
<path d="M376.2 326.5H385.8" stroke="#b4b4b4" stroke-width="0.8"/>
<text x="390.1" y="328.92" font-size="5.9" textLength="57.4" lengthAdjust="spacingAndGlyphs">sAPO1/Fas &lt; 7 ng/mL</text>
<path d="M374.7 335.2H386.3" stroke="#3a3a3a" stroke-width="1.0" stroke-dasharray="1.1 0.9"/>
<text x="390.1" y="337.62" font-size="5.9" textLength="57.4" lengthAdjust="spacingAndGlyphs">sAPO1/Fas &gt; 7 ng/mL</text>
<path d="M284.6 209 L390.4 209 L390.4 227.3 L401.8 227.3 L401.8 284.1 L415.8 284.1" fill="none" stroke="#999" stroke-width="0.7"/>
<path d="M278 212 L290 212 L291.2 214.4 L293.6 217.9 L335.8 217.9 L338.3 223 L339 227.9 L365.5 227.9 L367.5 230.5 L367.8 235 L369 240 L371.5 245 L371.5 252 L418.6 252" fill="none" stroke="#333" stroke-width="1.15" stroke-dasharray="1.3 2.2"/>
<path d="M284.3 209H286.5M285.4 207.8V210.2M286.6 209H288.8M287.7 207.8V210.2M288.9 209H291.1M290 207.8V210.2M289.9 209H292.1M291 207.8V210.2M291.6 209H293.8M292.7 207.8V210.2M293.3 209H295.5M294.4 207.8V210.2M294.5 209H296.7M295.6 207.8V210.2M296.9 209H299.1M298 207.8V210.2M301.6 209H303.8M302.7 207.8V210.2M303.37 209H305.57M304.47 207.8V210.2M305.13 209H307.33M306.23 207.8V210.2M306.9 209H309.1M308 207.8V210.2M308.4 209H310.6M309.5 207.8V210.2M310.9 209H313.1M312 207.8V210.2M313.4 209H315.6M314.5 207.8V210.2M318.2 209H320.4M319.3 207.8V210.2M323.1 209H325.3M324.2 207.8V210.2M329.3 209H331.5M330.4 207.8V210.2M330.95 209H333.15M332.05 207.8V210.2M332.6 209H334.8M333.7 207.8V210.2M335.2 209H337.4M336.3 207.8V210.2M341.2 209H343.4M342.3 207.8V210.2M349.2 209H351.4M350.3 207.8V210.2M351.6 209H353.8M352.7 207.8V210.2M354 209H356.2M355.1 207.8V210.2M357.6 209H359.8M358.7 207.8V210.2M361.4 209H363.6M362.5 207.8V210.2M369.1 209H371.3M370.2 207.8V210.2M371.5 209H373.7M372.6 207.8V210.2M374.2 209H376.4M375.3 207.8V210.2M380.6 209H382.8M381.7 207.8V210.2M384 209H386.2M385.1 207.8V210.2" stroke="#3a3a3a" stroke-width="1.1"/>
<path d="M389.7 227.3H391.9M390.8 226.1V228.5M391.75 227.3H393.95M392.85 226.1V228.5M393.8 227.3H396M394.9 226.1V228.5" stroke="#3a3a3a" stroke-width="1.1"/>
<path d="M413.9 284.1H416.1M415 282.9V285.3" stroke="#3a3a3a" stroke-width="1.1"/>
<path d="M277.3 212H279.5M278.4 210.8V213.2M281.1 212H283.3M282.2 210.8V213.2M283.03 212H285.23M284.13 210.8V213.2M284.97 212H287.17M286.07 210.8V213.2M286.9 212H289.1M288 210.8V213.2" stroke="#3a3a3a" stroke-width="1.1"/>
<path d="M289.1 214.4H291.3M290.2 213.2V215.6M291.1 214.4H293.3M292.2 213.2V215.6M293.1 214.4H295.3M294.2 213.2V215.6" stroke="#3a3a3a" stroke-width="1.1"/>
<path d="M292.8 217.9H295M293.9 216.7V219.1M294.55 217.9H296.75M295.65 216.7V219.1M296.3 217.9H298.5M297.4 216.7V219.1M297.9 217.9H300.1M299 216.7V219.1M299.65 217.9H301.85M300.75 216.7V219.1M301.4 217.9H303.6M302.5 216.7V219.1M303.2 217.9H305.4M304.3 216.7V219.1M304.9 217.9H307.1M306 216.7V219.1M306.6 217.9H308.8M307.7 216.7V219.1M311.7 217.9H313.9M312.8 216.7V219.1M315.3 217.9H317.5M316.4 216.7V219.1M320.9 217.9H323.1M322 216.7V219.1M322.5 217.9H324.7M323.6 216.7V219.1M325.3 217.9H327.5M326.4 216.7V219.1M330.1 217.9H332.3M331.2 216.7V219.1M334.2 217.9H336.4M335.3 216.7V219.1" stroke="#3a3a3a" stroke-width="1.1"/>
<path d="M335.2 222.5H337.4M336.3 221.3V223.7M337.8 222.5H340M338.9 221.3V223.7" stroke="#3a3a3a" stroke-width="1.1"/>
<path d="M338.2 227.9H340.4M339.3 226.7V229.1M341.8 227.9H344M342.9 226.7V229.1M345.4 227.9H347.6M346.5 226.7V229.1M350.2 227.9H352.4M351.3 226.7V229.1M351.8 227.9H354M352.9 226.7V229.1M355.6 227.9H357.8M356.7 226.7V229.1M360.9 227.9H363.1M362 226.7V229.1M364.3 227.9H366.5M365.4 226.7V229.1" stroke="#3a3a3a" stroke-width="1.1"/>
<path d="M370.7 252H372.9M371.8 250.8V253.2M373 252H375.2M374.1 250.8V253.2M375.3 252H377.5M376.4 250.8V253.2M381.1 252H383.3M382.2 250.8V253.2M384.5 252H386.7M385.6 250.8V253.2M389.7 252H391.9M390.8 250.8V253.2M393.8 252H396M394.9 250.8V253.2M399 252H401.2M400.1 250.8V253.2M401.8 252H404M402.9 250.8V253.2M407 252H409.2M408.1 250.8V253.2M411.6 252H413.8M412.7 250.8V253.2M416.8 252H419M417.9 250.8V253.2" stroke="#3a3a3a" stroke-width="1.1"/>
</g>
</g>
</svg>
</body></html>
